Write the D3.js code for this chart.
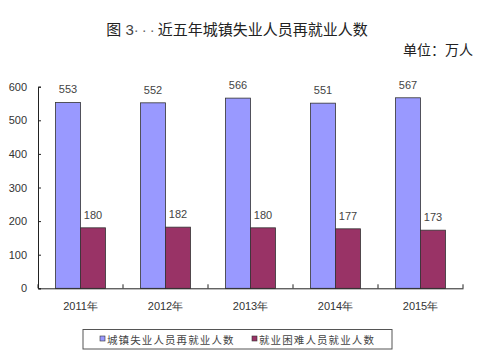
<!DOCTYPE html>
<html><head><meta charset="utf-8">
<script src="https://cdn.jsdelivr.net/npm/d3@7"></script>
<style>
body{margin:0;background:#fff;}
svg{display:block;font-family:"Noto Sans CJK SC","Liberation Sans",sans-serif;}
</style></head>
<body><svg id="c" width="500" height="357"></svg>
<script>
const categories = ["2011年","2012年","2013年","2014年","2015年"];
const seriesNames = ["城镇失业人员再就业人数","就业困难人员就业人数"];
const reemployed = [553,552,566,551,567];
const difficult = [180,182,180,177,173];
const yTicks = [0,100,200,300,400,500,600];
const colors = ["#9999FF","#993366"];

const svg = d3.select("#c");
const x = d3.scaleBand().domain(categories).range([38,463]);
const y = d3.scaleLinear().domain([0,600]).range([288.3,86.7]);
const barW = 25;

// title
const t = svg.append("text").attr("x",237).attr("y",35).attr("text-anchor","middle")
  .attr("font-size",15).attr("fill","#222");
t.append("tspan").text("图");
t.append("tspan").attr("font-family","Liberation Sans, sans-serif").attr("fill","#444").text(" 3");
t.append("tspan").attr("font-family","Liberation Sans, sans-serif").attr("fill","#666")
  .attr("letter-spacing",3).text("···");
t.append("tspan").text("近五年城镇失业人员再就业人数");
svg.append("text").attr("x",473).attr("y",55).attr("text-anchor","end")
  .attr("font-size",14).attr("fill","#222").text("单位：万人");

const series = [reemployed, difficult];
series.forEach((vals,si)=>{
  const g = svg.append("g");
  g.selectAll("rect").data(vals).join("rect")
    .attr("x",(d,i)=>x(categories[i])+x.bandwidth()/2 - barW + si*barW)
    .attr("y",d=>y(d)).attr("width",barW).attr("height",d=>y(0)-y(d))
    .attr("fill",colors[si]).attr("stroke","#333").attr("stroke-width",0.8);
  g.selectAll("text").data(vals).join("text")
    .attr("x",(d,i)=>x(categories[i])+x.bandwidth()/2 - barW/2 + si*barW)
    .attr("y",d=>y(d)-9).attr("text-anchor","middle")
    .attr("font-family","Liberation Sans, sans-serif")
    .attr("font-size",11).attr("fill","#444").text(d=>d);
});

// y axis
const ya = svg.append("g").attr("transform","translate(38,0)")
  .call(d3.axisLeft(y).tickValues(yTicks).tickSize(-3).tickPadding(11));
ya.select(".domain").attr("stroke","#222");
ya.selectAll(".tick line").attr("stroke","#222");
ya.selectAll(".tick text").attr("font-family","Liberation Sans, sans-serif")
  .attr("font-size",11).attr("fill","#333").attr("text-anchor","end");

// x axis
const xa = svg.append("g").attr("transform","translate(0,288.3)")
  .call(d3.axisBottom(x).tickSize(0).tickPadding(14));
xa.select(".domain").attr("stroke","#222");
xa.selectAll(".tick text").attr("font-size",11).attr("fill","#333");
const bounds = categories.map(c=>x(c)).concat([x.range()[1]]);
svg.append("g").selectAll("line").data(bounds).join("line")
  .attr("x1",d=>d).attr("x2",d=>d).attr("y1",288.3).attr("y2",284.3)
  .attr("stroke","#222");

// legend
const lg = svg.append("g");
lg.append("rect").attr("x",83).attr("y",329.5).attr("width",309).attr("height",19.5)
  .attr("fill","#fff").attr("stroke","#555").attr("stroke-width",1);
const lx = [100,252];
seriesNames.forEach((n,i)=>{
  lg.append("rect").attr("x",lx[i]).attr("y",336).attr("width",5).attr("height",5)
    .attr("fill",colors[i]).attr("stroke","#333").attr("stroke-width",0.6);
  lg.append("text").attr("x",lx[i]+7).attr("y",343.5).attr("font-size",10.5)
    .attr("letter-spacing",1.1).attr("fill","#444").text(n);
});
</script></body></html>
